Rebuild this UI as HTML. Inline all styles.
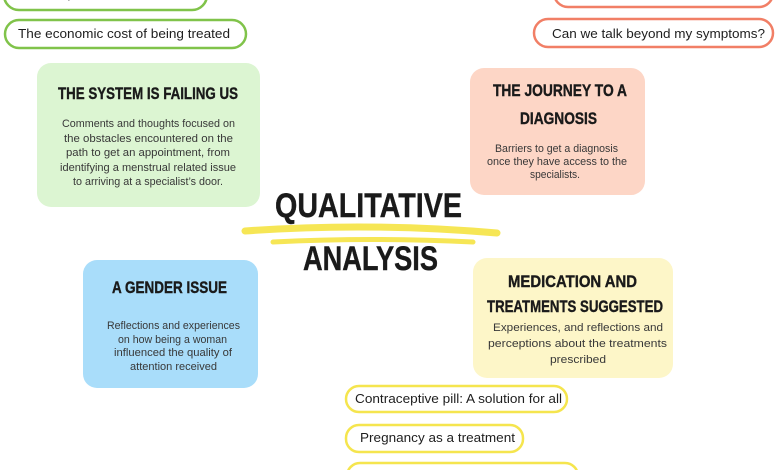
<!DOCTYPE html>
<html><head><meta charset="utf-8"><style>
html,body{margin:0;padding:0;background:#fff;width:780px;height:470px;overflow:hidden}
svg{display:block}
.t{font-family:"Liberation Sans Narrow","Liberation Sans",sans-serif;font-weight:bold;fill:#1a1a1a;stroke:#1a1a1a;stroke-width:0.4}
.b{font-family:"Liberation Sans",sans-serif;font-size:11px;fill:#383838}
.p{font-family:"Liberation Sans",sans-serif;font-size:13px;fill:#1e1e1e}
</style></head><body>
<svg width="780" height="470" viewBox="0 0 780 470" xmlns="http://www.w3.org/2000/svg">
<rect width="780" height="470" fill="#fff"/>

<!-- top green pills -->
<rect x="4" y="-22" width="203" height="32" rx="15" fill="#fff" stroke="#80c34a" stroke-width="2.5"/>
<text class="p" x="18" y="-2" textLength="174" lengthAdjust="spacingAndGlyphs">Lack of specialist care available</text>
<rect x="5" y="20" width="241" height="28" rx="14" fill="#fff" stroke="#80c34a" stroke-width="2.5"/>
<text class="p" x="18" y="38" textLength="212" lengthAdjust="spacingAndGlyphs">The economic cost of being treated</text>

<!-- top red pills -->
<rect x="554" y="-24" width="219" height="31" rx="14" fill="#fff" stroke="#f17f66" stroke-width="2.5"/>
<rect x="534" y="19" width="239" height="28" rx="14" fill="#fff" stroke="#f17f66" stroke-width="2.5"/>
<text class="p" x="552" y="38" textLength="213" lengthAdjust="spacingAndGlyphs">Can we talk beyond my symptoms?</text>

<!-- green box -->
<rect x="37" y="63" width="223" height="144" rx="14" fill="#dcf5d2"/>
<text class="t" x="58" y="99" font-size="17" textLength="180" lengthAdjust="spacingAndGlyphs">THE SYSTEM IS FAILING US</text>
<text class="b" x="62" y="127" textLength="173" lengthAdjust="spacingAndGlyphs">Comments and thoughts focused on</text>
<text class="b" x="64" y="142" textLength="169" lengthAdjust="spacingAndGlyphs">the obstacles encountered on the</text>
<text class="b" x="66" y="156" textLength="164" lengthAdjust="spacingAndGlyphs">path to get an appointment, from</text>
<text class="b" x="60" y="171" textLength="176" lengthAdjust="spacingAndGlyphs">identifying a menstrual related issue</text>
<text class="b" x="73" y="185" textLength="150" lengthAdjust="spacingAndGlyphs">to arriving at a specialist’s door.</text>

<!-- pink box -->
<rect x="470" y="68" width="175" height="127" rx="14" fill="#fdd6c6"/>
<text class="t" x="493" y="96" font-size="17" textLength="134" lengthAdjust="spacingAndGlyphs">THE JOURNEY TO A</text>
<text class="t" x="520" y="124" font-size="17" textLength="77" lengthAdjust="spacingAndGlyphs">DIAGNOSIS</text>
<text class="b" x="495" y="152" textLength="123" lengthAdjust="spacingAndGlyphs">Barriers to get a diagnosis</text>
<text class="b" x="487" y="165" textLength="140" lengthAdjust="spacingAndGlyphs">once they have access to the</text>
<text class="b" x="530" y="178" textLength="50" lengthAdjust="spacingAndGlyphs">specialists.</text>

<!-- title highlight -->
<path d="M245,231 Q370,222 497,233" stroke="#f6e54c" stroke-width="7" fill="none" stroke-linecap="round" opacity="0.95"/>
<path d="M273,242 Q373,237 473,242" stroke="#f6e54c" stroke-width="5" fill="none" stroke-linecap="round" opacity="0.95"/>

<!-- title -->
<text class="t" x="275" y="217" font-size="34" stroke="#111" stroke-width="1.6" fill="#111" textLength="187" lengthAdjust="spacingAndGlyphs">QUALITATIVE</text>
<text class="t" x="303" y="270" font-size="34" stroke="#111" stroke-width="1.6" fill="#111" textLength="135" lengthAdjust="spacingAndGlyphs">ANALYSIS</text>

<!-- blue box -->
<rect x="83" y="260" width="175" height="128" rx="14" fill="#a9ddfa"/>
<text class="t" x="112" y="293" font-size="17" textLength="115" lengthAdjust="spacingAndGlyphs">A GENDER ISSUE</text>
<text class="b" x="107" y="329" textLength="133" lengthAdjust="spacingAndGlyphs">Reflections and experiences</text>
<text class="b" x="118" y="343" textLength="109" lengthAdjust="spacingAndGlyphs">on how being a woman</text>
<text class="b" x="114" y="356" textLength="118" lengthAdjust="spacingAndGlyphs">influenced the quality of</text>
<text class="b" x="130" y="370" textLength="87" lengthAdjust="spacingAndGlyphs">attention received</text>

<!-- yellow box -->
<rect x="473" y="258" width="200" height="120" rx="14" fill="#fdf6c8"/>
<text class="t" x="508" y="287" font-size="17" textLength="129" lengthAdjust="spacingAndGlyphs">MEDICATION AND</text>
<text class="t" x="487" y="312" font-size="17" textLength="176" lengthAdjust="spacingAndGlyphs">TREATMENTS SUGGESTED</text>
<text class="b" x="493" y="331" textLength="170" lengthAdjust="spacingAndGlyphs">Experiences, and reflections and</text>
<text class="b" x="488" y="347" textLength="179" lengthAdjust="spacingAndGlyphs">perceptions about the treatments</text>
<text class="b" x="550" y="363" textLength="56" lengthAdjust="spacingAndGlyphs">prescribed</text>

<!-- yellow pills -->
<rect x="346" y="386" width="221" height="26" rx="13" fill="#fff" stroke="#f5e54e" stroke-width="2.5"/>
<text class="p" x="355" y="403" textLength="207" lengthAdjust="spacingAndGlyphs">Contraceptive pill: A solution for all</text>
<rect x="346" y="425" width="177" height="27" rx="13" fill="#fff" stroke="#f5e54e" stroke-width="2.5"/>
<text class="p" x="360" y="442" textLength="155" lengthAdjust="spacingAndGlyphs">Pregnancy as a treatment</text>
<rect x="347" y="463" width="231" height="28" rx="13" fill="#fff" stroke="#f5e54e" stroke-width="2.5"/>
</svg>
</body></html>
